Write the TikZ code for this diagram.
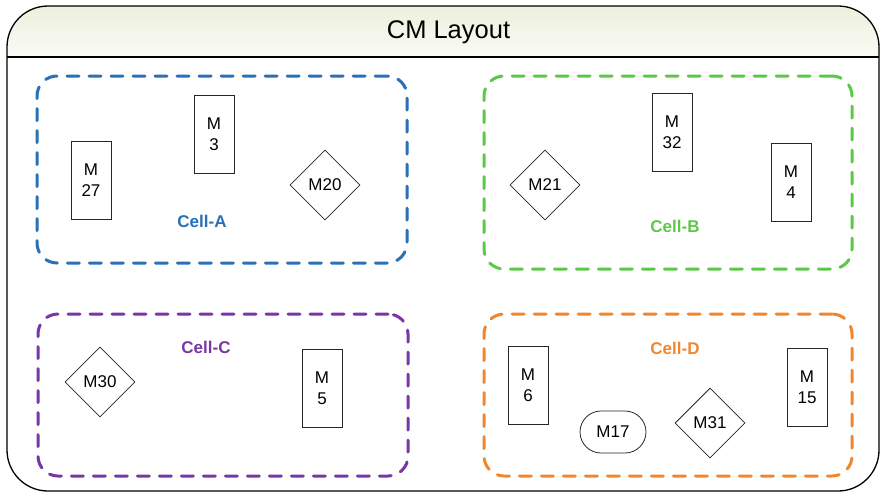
\documentclass[tikz,border=0pt]{standalone}
\usepackage{fontspec}
\setmainfont{Liberation Sans}
\usetikzlibrary{shapes.geometric}
\definecolor{cellblue}{HTML}{2970B6}
\definecolor{cellgreen}{HTML}{5CC84A}
\definecolor{cellpurple}{HTML}{7A35A6}
\definecolor{cellorange}{HTML}{F0862E}
\definecolor{hdtop}{HTML}{ECF0DC}
\definecolor{hdbot}{HTML}{FAFBF6}
\begin{document}
\begin{tikzpicture}[x=1pt,y=-1pt,
  machine/.style={draw=black!85,line width=.8pt,rectangle,minimum width=40pt,minimum height=78pt,inner sep=0pt,align=center,font=\fontsize{17}{21}\selectfont},
  station/.style={draw=black!85,line width=.8pt,diamond,aspect=1,minimum size=70pt,inner sep=0pt,font=\fontsize{17}{21}\selectfont},
  cellbox/.style={draw=#1,line width=3pt,rounded corners=20pt,dash pattern=on 12pt off 10pt,line cap=round,inner sep=0pt},
  celltag/.style={text=#1,anchor=base,font=\fontsize{17}{21}\selectfont\bfseries}]
\useasboundingbox (0,0) rectangle (880,493);
% frame and header
\fill[top color=hdtop,bottom color=hdbot] (7,57) [rounded corners=41pt] -- (7,6) -- (879,6) [sharp corners] -- (879,57) -- cycle;
\draw[line width=1.3pt,rounded corners=41pt] (7,6) rectangle (879,491);
\draw[line width=1.3pt] (7,57) -- (879,57);
\node[anchor=base,font=\fontsize{25.5}{30}\selectfont] (title) at (448.5,38) {CM Layout};
% cells
\node[cellbox=cellblue,minimum width=370pt,minimum height=187pt] (cellA) at (222,169.5) {};
\node[cellbox=cellgreen,minimum width=368pt,minimum height=193pt] (cellB) at (668,172.5) {};
\node[cellbox=cellpurple,minimum width=370pt,minimum height=162pt] (cellC) at (223,395) {};
\node[cellbox=cellorange,minimum width=368pt,minimum height=162pt] (cellD) at (668,395) {};
\node[celltag=cellblue] (tagA) at (202,227) {Cell-A};
\node[celltag=cellgreen] (tagB) at (675,232) {Cell-B};
\node[celltag=cellpurple] (tagC) at (206,353) {Cell-C};
\node[celltag=cellorange] (tagD) at (675,354) {Cell-D};
% machines
\foreach \n/\x/\y in {27/91/180,3/214/134,32/672/132,4/791/182,5/322/388,6/528/385,15/807/387}
  \node[machine] (m\n) at (\x,\y) {M\\\n};
\foreach \n/\x/\y in {20/325/185,21/545/185,30/100/382,31/710/423}
  \node[station] (m\n) at (\x,\y) {M\n};
\node[draw=black!85,line width=.8pt,rounded corners=21pt,minimum width=66pt,minimum height=42pt,inner sep=0pt,font=\fontsize{17}{21}\selectfont] (m17) at (613,432) {M17};
\end{tikzpicture}
\end{document}
